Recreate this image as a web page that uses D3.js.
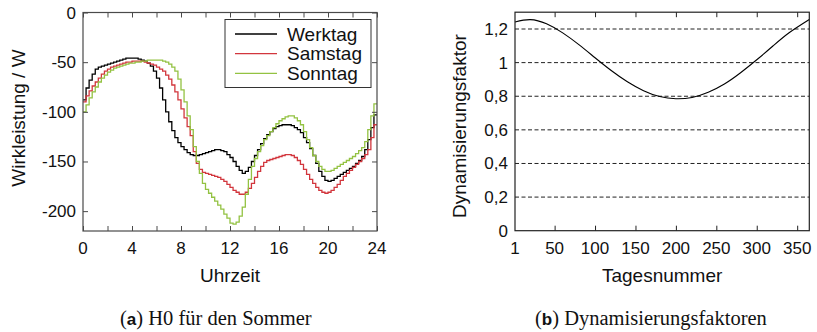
<!DOCTYPE html>
<html>
<head>
<meta charset="utf-8">
<script src="https://cdn.jsdelivr.net/npm/d3@7"></script>
<style>
  html, body { margin: 0; padding: 0; background: #fff; }
  svg { display: block; }
  .sans { font-family: "Liberation Sans", Arial, Helvetica, sans-serif; }
  .serif { font-family: "Liberation Serif", "DejaVu Serif", serif; }
</style>
</head>
<body>
<svg id="chart" width="817" height="332"></svg>
<script>
// ---- Left panel: H0 summer load profile (quarter-hour steps) ----
const hourTicks = [0, 4, 8, 12, 16, 20, 24];
const loadTicks = [0, -50, -100, -150, -200];
const seriesNames = ["Werktag", "Samstag", "Sonntag"];

const werktag = [
  -88, -76, -68, -62,   -57, -55, -54, -53,   -52, -51, -50, -49,   -48, -47, -46, -46,
  -46, -46, -47, -48,   -49, -51, -54, -59,   -66, -76, -88, -100,  -110, -119, -126, -131,
  -135, -138, -141, -143, -144, -144, -143, -142, -141, -140, -139, -138, -138, -139, -140, -143,
  -146, -150, -155, -159, -162, -160, -156, -150, -144, -138, -132, -127, -123, -120, -117, -115,
  -114, -113, -113, -113, -114, -116, -118, -121, -126, -131, -137, -144, -152, -160, -165, -169,
  -170, -169, -167, -165, -163, -161, -159, -157, -155, -152, -149, -145, -138, -128, -116, -103
];
const samstag = [
  -90, -84, -79, -74,   -70, -66, -62, -59,   -57, -55, -54, -53,   -52, -51, -50, -50,
  -49, -49, -49, -49,   -50, -51, -52, -53,   -55, -57, -59, -63,   -67, -73, -80, -88,
  -97, -106, -115, -124, -140, -152, -158, -161, -162, -163, -164, -165, -166, -168, -170, -173,
  -176, -179, -181, -183, -183, -181, -177, -172, -166, -160, -155, -151, -149, -148, -147, -146,
  -145, -144, -143, -143, -144, -146, -149, -153, -158, -163, -168, -172, -176, -179, -181, -182,
  -181, -179, -176, -173, -169, -165, -162, -159, -156, -153, -150, -147, -143, -138, -126, -113
];
const sonntag = [
  -100, -93, -86, -80,  -75, -70, -66, -63,   -60, -58, -56, -55,   -54, -53, -52, -51,
  -51, -50, -50, -49,   -49, -48, -48, -48,   -48, -48, -49, -50,   -52, -55, -59, -67,
  -78, -90, -104, -118, -135, -150, -162, -172, -178, -182, -186, -190, -194, -198, -203, -207,
  -212, -213, -211, -205, -196, -183, -168, -155, -147, -140, -134, -128, -124, -120, -116, -112,
  -109, -107, -105, -104, -104, -106, -109, -113, -120, -128, -136, -144, -150, -155, -158, -160,
  -160, -159, -157, -155, -153, -151, -149, -147, -145, -142, -139, -136, -130, -118, -104, -92
];
const seriesColors = ["#000000", "#d2363d", "#93c242"];

// ---- Right panel: dynamisation factor over the year ----
const dayTicks = [1, 50, 100, 150, 200, 250, 300, 350];
const factorTicks = [0, 0.2, 0.4, 0.6, 0.8, 1, 1.2];
const days =    [1, 20, 40, 60, 80, 100, 120, 140, 160, 180, 200, 220, 240, 260, 280, 300, 320, 340, 365];
const factors = [1.242, 1.256, 1.231, 1.177, 1.107, 1.029, 0.953, 0.886, 0.833, 0.798, 0.785,
                 0.793, 0.824, 0.873, 0.940, 1.017, 1.099, 1.178, 1.257];

const svg = d3.select("#chart");
const tickFont = 17, labelFont = 19;
const deComma = v => String(v).replace(".", ",");

// ================= Panel (a) =================
const xA = d3.scaleLinear().domain([0, 24]).range([83, 377]);
const yA = d3.scaleLinear().domain([-220, 0]).range([231, 12.5]);
const gA = svg.append("g").attr("class", "sans");
const axisColA = "#4a4a4a";

// series (drawn as quarter-hour stairs)
const stepLine = d3.line()
  .x(d => xA(d[0]))
  .y(d => yA(d[1]))
  .curve(d3.curveStepAfter);
[werktag, samstag, sonntag].forEach((vals, k) => {
  const pts = vals.map((v, i) => [i / 4, v]);
  pts.push([24, vals[vals.length - 1]]);
  gA.append("path")
    .attr("d", stepLine(pts))
    .attr("fill", "none")
    .attr("stroke", seriesColors[k])
    .attr("stroke-width", 1.3);
});

// inward ticks on all four sides
const minorHours = d3.range(0, 25, 2);
gA.append("g").attr("transform", `translate(0,${yA(-220)})`)
  .call(d3.axisBottom(xA).tickValues(minorHours).tickSize(-5).tickFormat(""))
  .call(g => g.select(".domain").remove());
gA.append("g").attr("transform", `translate(0,${yA(0)})`)
  .call(d3.axisTop(xA).tickValues(minorHours).tickSize(-5).tickFormat(""))
  .call(g => g.select(".domain").remove());
gA.append("g").attr("transform", `translate(${xA(0)},0)`)
  .call(d3.axisLeft(yA).tickValues(loadTicks).tickSize(-5).tickFormat(""))
  .call(g => g.select(".domain").remove());
gA.append("g").attr("transform", `translate(${xA(24)},0)`)
  .call(d3.axisRight(yA).tickValues(loadTicks).tickSize(-5).tickFormat(""))
  .call(g => g.select(".domain").remove());
gA.selectAll(".tick line").attr("stroke", axisColA);

// frame
gA.append("rect")
  .attr("x", xA(0)).attr("y", yA(0))
  .attr("width", xA(24) - xA(0)).attr("height", yA(-220) - yA(0))
  .attr("fill", "none").attr("stroke", axisColA).attr("stroke-width", 1.2);

// tick labels
gA.selectAll("text.xl").data(hourTicks).join("text")
  .attr("x", d => xA(d)).attr("y", 254)
  .attr("text-anchor", "middle").attr("font-size", tickFont).attr("fill", "#111")
  .text(d => d);
gA.selectAll("text.yl").data(loadTicks).join("text")
  .attr("x", 76).attr("y", d => yA(d) + 6)
  .attr("text-anchor", "end").attr("font-size", tickFont).attr("fill", "#111")
  .text(d => String(d).replace("\u2212", "-"));

// axis titles
gA.append("text").attr("x", xA(12)).attr("y", 282)
  .attr("text-anchor", "middle").attr("font-size", labelFont).attr("fill", "#111")
  .text("Uhrzeit");
gA.append("text").attr("transform", "translate(25,118) rotate(-90)")
  .attr("text-anchor", "middle").attr("font-size", labelFont).attr("fill", "#111")
  .text("Wirkleistung / W");

// legend
const leg = gA.append("g");
leg.append("rect").attr("x", 225).attr("y", 19.5).attr("width", 146).attr("height", 68)
  .attr("fill", "#fff").attr("stroke", "#333").attr("stroke-width", 1);
seriesNames.forEach((name, k) => {
  const cy = 34 + k * 19.7;
  leg.append("line").attr("x1", 235).attr("x2", 277).attr("y1", cy).attr("y2", cy)
    .attr("stroke", seriesColors[k]).attr("stroke-width", 1.3);
  leg.append("text").attr("x", 287).attr("y", cy + 6.5)
    .attr("font-size", labelFont).attr("fill", "#111").text(name);
});

// ================= Panel (b) =================
const xB = d3.scaleLinear().domain([1, 365]).range([515, 809.3]);
const yB = d3.scaleLinear().domain([0, 1.3]).range([230.7, 12.2]);
const gB = svg.append("g").attr("class", "sans");
const axisColB = "#222";

// dashed grid
gB.selectAll("line.grid").data(factorTicks.filter(v => v > 0)).join("line")
  .attr("x1", xB(1)).attr("x2", xB(365))
  .attr("y1", d => yB(d)).attr("y2", d => yB(d))
  .attr("stroke", "#222").attr("stroke-width", 1)
  .attr("stroke-dasharray", "4,2.5");

// inward x ticks
gB.append("g").attr("transform", `translate(0,${yB(0)})`)
  .call(d3.axisBottom(xB).tickValues(dayTicks.slice(1)).tickSize(-5).tickFormat(""))
  .call(g => g.select(".domain").remove());
gB.append("g").attr("transform", `translate(0,${yB(1.3)})`)
  .call(d3.axisTop(xB).tickValues(dayTicks.slice(1)).tickSize(-5).tickFormat(""))
  .call(g => g.select(".domain").remove());
gB.selectAll(".tick line").attr("stroke", axisColB);

// curve
const curve = d3.line()
  .x((d, i) => xB(days[i]))
  .y(d => yB(d))
  .curve(d3.curveNatural);
gB.append("path").attr("d", curve(factors))
  .attr("fill", "none").attr("stroke", "#000").attr("stroke-width", 1.1);

// frame
gB.append("rect")
  .attr("x", xB(1)).attr("y", yB(1.3))
  .attr("width", xB(365) - xB(1)).attr("height", yB(0) - yB(1.3))
  .attr("fill", "none").attr("stroke", axisColB).attr("stroke-width", 1.2);

// tick labels
gB.selectAll("text.xl").data(dayTicks).join("text")
  .attr("x", d => xB(d)).attr("y", 254)
  .attr("text-anchor", "middle").attr("font-size", tickFont).attr("fill", "#111")
  .text(d => d);
gB.selectAll("text.yl").data(factorTicks).join("text")
  .attr("x", 508).attr("y", d => yB(d) + 6)
  .attr("text-anchor", "end").attr("font-size", tickFont).attr("fill", "#111")
  .text(d => deComma(d));

// axis titles
gB.append("text").attr("x", xB(183)).attr("y", 282)
  .attr("text-anchor", "middle").attr("font-size", labelFont).attr("fill", "#111")
  .text("Tagesnummer");
gB.append("text").attr("transform", "translate(466,126) rotate(-90)")
  .attr("text-anchor", "middle").attr("font-size", labelFont).attr("fill", "#111")
  .text("Dynamisierungsfaktor");

// ================= Captions =================
function caption(x, letter, rest) {
  const t = svg.append("text").attr("x", x).attr("y", 325).attr("font-size", 20.5)
    .attr("class", "serif").attr("fill", "#111");
  t.append("tspan").text("(");
  t.append("tspan").attr("class", "sans").attr("font-weight", "bold").attr("font-size", 17).text(letter);
  t.append("tspan").text(") " + rest);
}
caption(120, "a", "H0 für den Sommer");
caption(535, "b", "Dynamisierungsfaktoren");
</script>
</body>
</html>
